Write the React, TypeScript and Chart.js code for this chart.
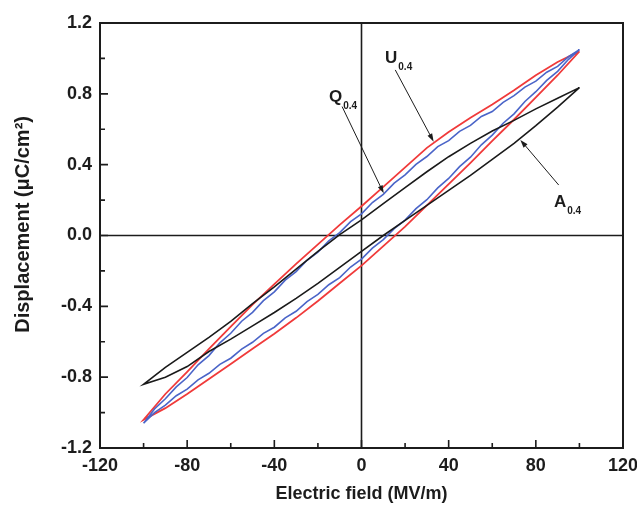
import React, { useEffect, useRef } from "react";
import { Chart, registerables } from "chart.js";

Chart.register(...registerables);

// Electric field sample points (MV/m)
const FIELD_DOWN = [100, 90, 80, 70, 60, 50, 40, 30, 20, 10, 0, -10, -20, -30, -40, -50, -60, -70, -80, -90, -100];
const FIELD_UP = [-100, -90, -80, -70, -60, -50, -40, -30, -20, -10, 0, 10, 20, 30, 40, 50, 60, 70, 80, 90, 100];
const FIELD_DOWN_FINE = [100, 95, 90, 85, 80, 75, 70, 65, 60, 55, 50, 45, 40, 35, 30, 25, 20, 15, 10, 5, 0, -5, -10, -15, -20, -25, -30, -35, -40, -45, -50, -55, -60, -65, -70, -75, -80, -85, -90, -95, -100];
const FIELD_UP_FINE = [-100, -95, -90, -85, -80, -75, -70, -65, -60, -55, -50, -45, -40, -35, -30, -25, -20, -15, -10, -5, 0, 5, 10, 15, 20, 25, 30, 35, 40, 45, 50, 55, 60, 65, 70, 75, 80, 85, 90, 95, 100];

// U0.4 (red) displacement, μC/cm²
const U_DESC = [1.04, 0.98, 0.905, 0.82, 0.74, 0.665, 0.585, 0.495, 0.385, 0.275, 0.165, 0.06, -0.05, -0.16, -0.275, -0.39, -0.515, -0.64, -0.77, -0.895, -1.04];
const U_ASC = [-1.04, -0.975, -0.895, -0.81, -0.725, -0.64, -0.555, -0.465, -0.37, -0.27, -0.17, -0.06, 0.05, 0.17, 0.29, 0.41, 0.535, 0.655, 0.78, 0.905, 1.04];

// Q0.4 (blue)
const Q_DESC = [1.05, 1.01, 0.955, 0.922, 0.872, 0.838, 0.79, 0.752, 0.7, 0.672, 0.622, 0.588, 0.536, 0.502, 0.446, 0.402, 0.342, 0.296, 0.232, 0.186, 0.122, 0.078, 0.016, -0.03, -0.094, -0.14, -0.204, -0.252, -0.318, -0.368, -0.434, -0.484, -0.552, -0.606, -0.678, -0.73, -0.802, -0.855, -0.922, -0.98, -1.06];
const Q_ASC = [-1.06, -1.0, -0.958, -0.905, -0.868, -0.815, -0.778, -0.728, -0.693, -0.642, -0.603, -0.553, -0.518, -0.465, -0.428, -0.373, -0.333, -0.278, -0.238, -0.178, -0.133, -0.071, -0.023, 0.039, 0.087, 0.152, 0.202, 0.269, 0.322, 0.389, 0.442, 0.512, 0.567, 0.634, 0.687, 0.757, 0.812, 0.876, 0.927, 0.995, 1.05];

// A0.4 (black)
const A_DESC = [0.835, 0.775, 0.715, 0.65, 0.59, 0.52, 0.445, 0.36, 0.27, 0.18, 0.088, 0.005, -0.09, -0.19, -0.29, -0.385, -0.485, -0.575, -0.66, -0.745, -0.84];
const A_ASC = [-0.84, -0.8, -0.74, -0.655, -0.585, -0.51, -0.435, -0.355, -0.27, -0.18, -0.09, 0.0, 0.085, 0.17, 0.255, 0.34, 0.43, 0.52, 0.62, 0.725, 0.835];

// Annotation labels and arrows (data coordinates)
const LABEL_NAMES = ["U", "Q", "A"];
const LABEL_SUBS = ["0.4", "0.4", "0.4"];
const LABEL_POS = [[10.8, 0.975], [-14.9, 0.754], [88.3, 0.161]];
const ARROW_FROM = [[15.5, 0.935], [-8.9, 0.728], [90.5, 0.285]];
const ARROW_TO = [[33.1, 0.53], [10.2, 0.238], [72.9, 0.54]];

const X_TITLE = "Electric field (MV/m)";
const Y_TITLE = "    Displacement (μC/cm²)";

const FONT = "'Liberation Sans', Arial, sans-serif";
const INK = "#1c1c1c";

function loop(xd: number[], yd: number[], xu: number[], yu: number[]) {
  const pts: { x: number; y: number }[] = [];
  xd.forEach((x, i) => pts.push({ x, y: yd[i] }));
  xu.forEach((x, i) => pts.push({ x, y: yu[i] }));
  return pts;
}

const decorPlugin = {
  id: "decor",
  beforeDatasetsDraw(chart: any) {
    const { ctx, chartArea: a, scales } = chart;
    const x0 = scales.x.getPixelForValue(0);
    const y0 = scales.y.getPixelForValue(0);
    ctx.save();
    ctx.strokeStyle = INK;
    ctx.lineWidth = 1.6;
    ctx.beginPath();
    ctx.moveTo(x0, a.top);
    ctx.lineTo(x0, a.bottom);
    ctx.moveTo(a.left, y0);
    ctx.lineTo(a.right, y0);
    ctx.stroke();
    ctx.restore();
  },
  afterDatasetsDraw(chart: any) {
    const { ctx, chartArea: a, scales } = chart;
    const sx = scales.x;
    const sy = scales.y;
    ctx.save();
    ctx.strokeStyle = INK;
    ctx.lineWidth = 2;
    ctx.strokeRect(a.left, a.top, a.right - a.left, a.bottom - a.top);
    ctx.lineWidth = 1.6;
    ctx.beginPath();
    sx.ticks.forEach((t: any) => {
      const px = sx.getPixelForValue(t.value);
      const len = t.label !== "" ? 8 : 5;
      ctx.moveTo(px, a.bottom);
      ctx.lineTo(px, a.bottom - len);
    });
    sy.ticks.forEach((t: any) => {
      const py = sy.getPixelForValue(t.value);
      const len = t.label !== "" ? 8 : 5;
      ctx.moveTo(a.left, py);
      ctx.lineTo(a.left + len, py);
    });
    ctx.stroke();

    // annotations
    ctx.fillStyle = INK;
    ctx.strokeStyle = INK;
    ctx.lineWidth = 1;
    LABEL_NAMES.forEach((name, i) => {
      const fx = sx.getPixelForValue(ARROW_FROM[i][0]);
      const fy = sy.getPixelForValue(ARROW_FROM[i][1]);
      const tx = sx.getPixelForValue(ARROW_TO[i][0]);
      const ty = sy.getPixelForValue(ARROW_TO[i][1]);
      const ang = Math.atan2(ty - fy, tx - fx);
      const hl = 8;
      const hw = 2.6;
      ctx.beginPath();
      ctx.moveTo(fx, fy);
      ctx.lineTo(tx - Math.cos(ang) * hl * 0.8, ty - Math.sin(ang) * hl * 0.8);
      ctx.stroke();
      ctx.beginPath();
      ctx.moveTo(tx, ty);
      ctx.lineTo(tx - Math.cos(ang) * hl - Math.sin(ang) * hw, ty - Math.sin(ang) * hl + Math.cos(ang) * hw);
      ctx.lineTo(tx - Math.cos(ang) * hl + Math.sin(ang) * hw, ty - Math.sin(ang) * hl - Math.cos(ang) * hw);
      ctx.closePath();
      ctx.fill();

      const lx = sx.getPixelForValue(LABEL_POS[i][0]);
      const ly = sy.getPixelForValue(LABEL_POS[i][1]);
      ctx.textBaseline = "alphabetic";
      ctx.textAlign = "left";
      ctx.font = `bold 17px ${FONT}`;
      ctx.fillText(name, lx, ly);
      const w = ctx.measureText(name).width;
      ctx.font = `bold 10px ${FONT}`;
      ctx.fillText(LABEL_SUBS[i], lx + w + 1, ly + 7);
    });
    ctx.restore();
  },
};

export default function App() {
  const ref = useRef<HTMLCanvasElement | null>(null);
  useEffect(() => {
    if (!ref.current) return;
    const chart = new Chart(ref.current, {
      type: "scatter",
      data: {
        datasets: [
          {
            label: "A0.4",
            data: loop(FIELD_DOWN, A_DESC, FIELD_UP, A_ASC),
            showLine: true,
            borderColor: "#1a1a1a",
            borderWidth: 1.6,
            pointRadius: 0,
            tension: 0,
          },
          {
            label: "Q0.4",
            data: loop(FIELD_DOWN_FINE, Q_DESC, FIELD_UP_FINE, Q_ASC),
            showLine: true,
            borderColor: "#4a64c8",
            borderWidth: 1.6,
            pointRadius: 0,
            tension: 0,
          },
          {
            label: "U0.4",
            data: loop(FIELD_DOWN, U_DESC, FIELD_UP, U_ASC),
            showLine: true,
            borderColor: "#f03a3a",
            borderWidth: 1.8,
            pointRadius: 0,
            tension: 0,
          },
        ],
      },
      options: {
        responsive: false,
        animation: false,
        layout: { padding: { left: 0, top: 23, right: 14, bottom: 0 } },
        plugins: { legend: { display: false }, tooltip: { enabled: false } },
        scales: {
          x: {
            type: "linear",
            min: -120,
            max: 120,
            grid: { display: false, drawTicks: false },
            border: { display: false },
            afterFit: (s: any) => {
              s.height = 59;
              s.paddingLeft = 0;
              s.paddingRight = 0;
            },
            ticks: {
              stepSize: 20,
              autoSkip: false,
              maxRotation: 0,
              padding: 7,
              color: INK,
              font: { family: FONT, size: 18, weight: "bold" },
              callback: (v: any) => (Number(v) % 40 === 0 ? String(v) : ""),
            },
            title: {
              display: true,
              text: X_TITLE,
              color: INK,
              padding: { top: 0, bottom: 2 },
              font: { family: FONT, size: 18, weight: "bold" },
            },
          },
          y: {
            type: "linear",
            min: -1.2,
            max: 1.2,
            grid: { display: false, drawTicks: false },
            border: { display: false },
            afterFit: (s: any) => {
              s.width = 100;
              s.paddingTop = 0;
              s.paddingBottom = 0;
            },
            ticks: {
              stepSize: 0.2,
              autoSkip: false,
              padding: 8,
              color: INK,
              font: { family: FONT, size: 18, weight: "bold" },
              callback: (v: any) => {
                const k = Math.round(Number(v) * 10);
                return k % 4 === 0 ? (k / 10).toFixed(1) : "";
              },
            },
            title: {
              display: true,
              text: Y_TITLE,
              color: INK,
              padding: { top: 11, bottom: 0 },
              font: { family: FONT, size: 20, weight: "bold" },
            },
          },
        },
      },
      plugins: [decorPlugin],
    });
    return () => chart.destroy();
  }, []);
  return (
    <div style={{ position: "absolute", left: 0, top: 0, width: 637, height: 507, background: "#fff" }}>
      <canvas ref={ref} width={637} height={507} />
    </div>
  );
}
